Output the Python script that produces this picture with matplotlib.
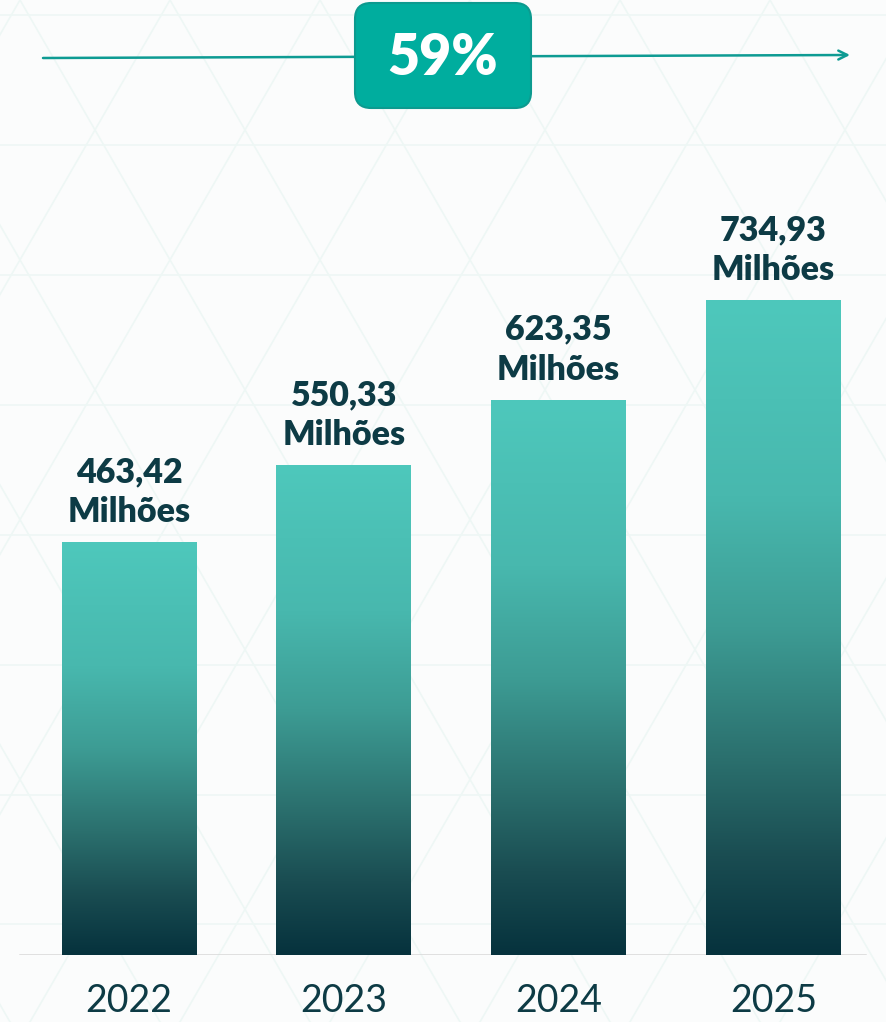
import numpy as np
import matplotlib
matplotlib.use("Agg")
import matplotlib.pyplot as plt
from matplotlib.colors import LinearSegmentedColormap
from matplotlib.patches import FancyBboxPatch, Rectangle

# ---- data ----
years = ["2022", "2023", "2024", "2025"]
values = [463.42, 550.33, 623.35, 734.93]
unit_label = "Milhões"
growth_label = "59%"

DARK = "#0d3b45"
W, H = 887, 1022
fig = plt.figure(figsize=(W / 100, H / 100), dpi=100, facecolor="#fbfcfc")

# background / decoration axes in pixel coordinates
bg = fig.add_axes([0, 0, 1, 1], zorder=0)
bg.set_xlim(0, W)
bg.set_ylim(H, 0)
bg.axis("off")
bg.set_facecolor("#fbfcfc")

# faint triangular lattice pattern
side = 150.0
hgt = side * np.sin(np.pi / 3)
lat_col = "#eef7f5"
for k in range(-2, 10):
    y = 145 + (k - 1) * hgt
    bg.plot([0, W], [y, y], color=lat_col, lw=1.2, zorder=0)
for k in range(-12, 14):
    x0 = 20 + k * side
    t = np.array([-100, H + 100])
    bg.plot(x0 + t / np.tan(np.pi / 3), t, color=lat_col, lw=1.2, zorder=0)
    bg.plot(x0 - t / np.tan(np.pi / 3), t, color=lat_col, lw=1.2, zorder=0)

# growth arrow + badge
bg.annotate("", xy=(850, 55), xytext=(43, 58),
            arrowprops=dict(arrowstyle="->", color="#0e9b93", lw=1.8,
                            mutation_scale=16, shrinkA=0, shrinkB=0), zorder=3)
badge = FancyBboxPatch((367, 15), 152, 81,
                       boxstyle="round,pad=12,rounding_size=16",
                       facecolor="#00ad9e", edgecolor="#0c9a8f", lw=1.5, zorder=4)
bg.add_patch(badge)
bg.text(443, 58, growth_label, color="white", fontsize=40, fontweight="heavy",
        family=["Lato", "DejaVu Sans"], ha="center", va="center", zorder=5)

# ---- bar axes ----
base_px = 955
px_per_unit = 0.891
spacing_px = 214.8
first_center = 129
bar_w = 135 / spacing_px

ax = fig.add_axes([0, 1 - base_px / H, 1, base_px / H], zorder=2)
ax.patch.set_alpha(0)

cmap = LinearSegmentedColormap.from_list(
    "bar", [(0.0, "#4ec8bc"), (0.3, "#48b8ae"), (0.5, "#3d9c94"),
            (0.7, "#2b706e"), (0.85, "#1a4d52"), (1.0, "#06323d")])
grad = np.linspace(0, 1, 256).reshape(-1, 1)

xs = np.arange(len(years))
bars = ax.bar(xs, values, width=bar_w, color="none", edgecolor="none")
for b in bars:
    x0, y0 = b.get_x(), b.get_y()
    w, h = b.get_width(), b.get_height()
    im = ax.imshow(grad, extent=[x0, x0 + w, y0, y0 + h], aspect="auto",
                   cmap=cmap, origin="upper", zorder=2, interpolation="bicubic")
    im.set_clip_path(b)

for x, v in zip(xs, values):
    lbl = f"{v:.2f}".replace(".", ",") + "\n" + unit_label
    ax.text(x, v + 14 / px_per_unit, lbl, ha="center", va="bottom",
            fontsize=24.5, fontweight="heavy", color=DARK,
            family=["Lato", "DejaVu Sans"], linespacing=1.3, zorder=3)

ax.set_xlim(-first_center / spacing_px, (W - first_center) / spacing_px)
ax.set_ylim(0, base_px / px_per_unit)
ax.axhline(0, xmin=20 / W, xmax=865 / W, color="#d8d8d8", lw=1.8, zorder=1)
for s in ax.spines.values():
    s.set_visible(False)
ax.set_yticks([])
ax.set_xticks(xs)
ax.set_xticklabels(years, fontsize=27, color=DARK, family=["Lato", "DejaVu Sans"])
ax.tick_params(axis="x", length=0, pad=20)

fig.savefig("out.png", dpi=100, facecolor=fig.get_facecolor())
